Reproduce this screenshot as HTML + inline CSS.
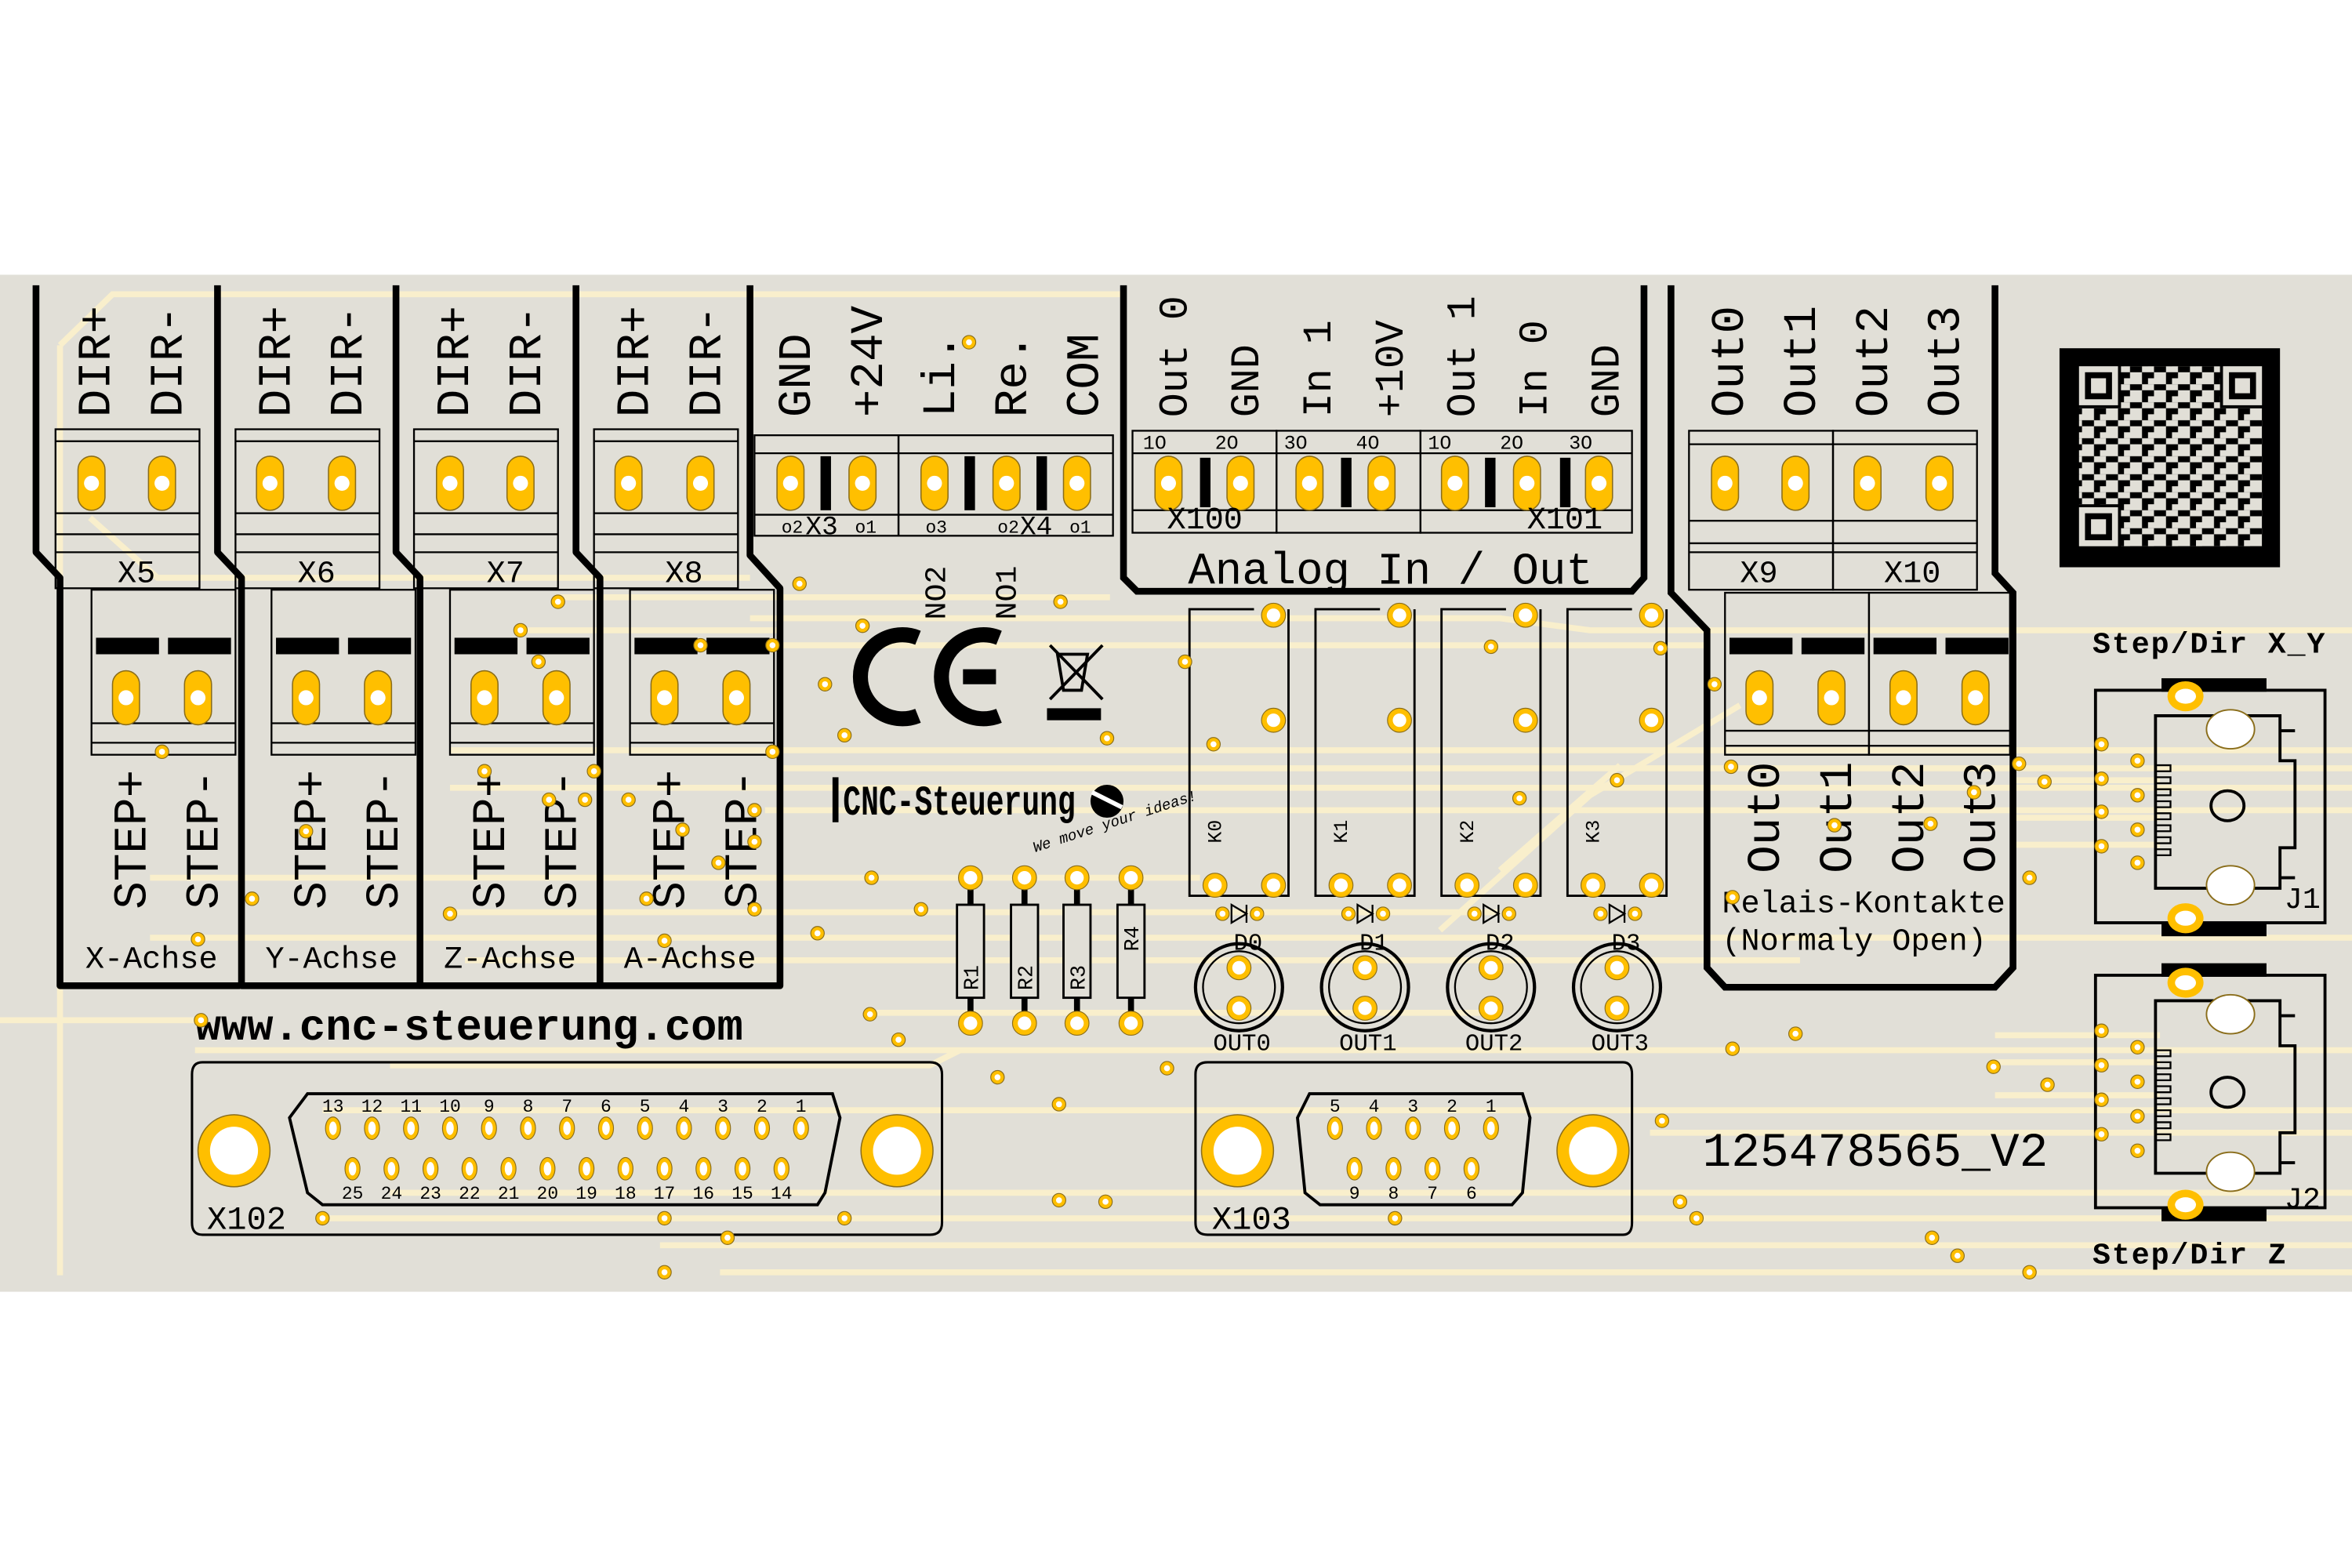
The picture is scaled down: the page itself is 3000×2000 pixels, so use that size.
<!DOCTYPE html>
<html><head><meta charset="utf-8"><style>
html,body{margin:0;padding:0;background:#fff;}
svg{display:block}
text{font-family:"Liberation Mono","DejaVu Sans Mono",monospace;fill:#000}
</style></head><body>
<svg width="3000" height="2000" viewBox="0 0 1568 1045" xmlns="http://www.w3.org/2000/svg">
<defs>
<g id="op"><rect x="-9" y="-18" width="18" height="36" rx="9" fill="#ffbf00" stroke="#8a6d1a" stroke-width="0.8"/><circle r="5" fill="#fff"/></g>
<g id="via"><circle r="4.5" fill="#ffbf00" stroke="#8a6d1a" stroke-width="0.6"/><circle r="2" fill="#fff"/></g>
<g id="rp"><circle r="8" fill="#ffbf00" stroke="#8a6d1a" stroke-width="0.6"/><circle r="4.5" fill="#fff"/></g>
<g id="sp"><ellipse rx="5" ry="7.5" fill="#ffbf00" stroke="#8a6d1a" stroke-width="0.6"/><ellipse rx="2.5" ry="4.5" fill="#fff"/></g>
<g id="big"><ellipse rx="24" ry="24" fill="#ffbf00" stroke="#8a6d1a" stroke-width="0.8"/><ellipse rx="16" ry="16" fill="#fff"/></g>
<pattern id="qr" width="16" height="12" patternUnits="userSpaceOnUse">
<rect width="16" height="12" fill="#000"/>
<rect x="0" y="0" width="4" height="4" fill="#e1dfd7"/><rect x="8" y="0" width="8" height="4" fill="#e1dfd7"/>
<rect x="4" y="4" width="8" height="4" fill="#e1dfd7"/><rect x="0" y="8" width="4" height="4" fill="#e1dfd7"/><rect x="12" y="8" width="4" height="4" fill="#e1dfd7"/>
</pattern>
</defs>
<rect width="1568" height="1045" fill="#fff"/>
<rect x="0" y="183" width="1568" height="678" fill="#e1dfd7"/>
<!-- traces -->
<g stroke="#f9efcc" stroke-width="4" fill="none">
<path d="M40 230 L75 196 L750 196"/>
<path d="M40 230 L40 850"/>
<path d="M60 345 L105 385 L500 385"/>
<path d="M500 412 L1000 412 L1060 420 L1568 420"/>
<path d="M520 430 L1140 430"/>
<path d="M370 398 L740 398"/>
<path d="M345 420 L520 420"/>
<path d="M300 500 L1568 500"/>
<path d="M520 512 L1568 512"/>
<path d="M300 525 L1568 525"/>
<path d="M510 540 L1568 540"/>
<path d="M100 585 L800 585"/>
<path d="M300 608 L1000 608"/>
<path d="M100 625 L1568 625"/>
<path d="M310 640 L1200 640"/>
<path d="M580 675 L1000 675"/>
<path d="M0 680 L130 680"/>
<path d="M130 700 L1568 700"/>
<path d="M260 710 L620 710 L640 700"/>
<path d="M215 740 L1568 740"/>
<path d="M1100 755 L1568 755"/>
<path d="M260 795 L1568 795"/>
<path d="M215 812 L1568 812"/>
<path d="M440 830 L1568 830"/>
<path d="M480 848 L1568 848"/>
<path d="M1340 500 L1440 500"/><path d="M1340 520 L1440 520"/><path d="M1340 545 L1440 545"/><path d="M1340 563 L1440 563"/>
<path d="M1330 690 L1440 690"/><path d="M1330 708 L1440 708"/><path d="M1330 730 L1440 730"/>
<path d="M960 620 L1060 530 L1160 470"/>
<path d="M1000 580 L1080 510"/>
</g>
<!-- left terminal columns -->
<g fill="none" stroke="#000" stroke-width="1.2">
<rect x="37" y="286" width="96" height="106"/><line x1="37" y1="294" x2="133" y2="294"/><line x1="37" y1="342" x2="133" y2="342"/><line x1="37" y1="356" x2="133" y2="356"/><line x1="37" y1="368" x2="133" y2="368"/>
<rect x="157" y="286" width="96" height="106"/><line x1="157" y1="294" x2="253" y2="294"/><line x1="157" y1="342" x2="253" y2="342"/><line x1="157" y1="356" x2="253" y2="356"/><line x1="157" y1="368" x2="253" y2="368"/>
<rect x="276" y="286" width="96" height="106"/><line x1="276" y1="294" x2="372" y2="294"/><line x1="276" y1="342" x2="372" y2="342"/><line x1="276" y1="356" x2="372" y2="356"/><line x1="276" y1="368" x2="372" y2="368"/>
<rect x="396" y="286" width="96" height="106"/><line x1="396" y1="294" x2="492" y2="294"/><line x1="396" y1="342" x2="492" y2="342"/><line x1="396" y1="356" x2="492" y2="356"/><line x1="396" y1="368" x2="492" y2="368"/>
<rect x="61" y="393" width="96" height="110"/><line x1="61" y1="482" x2="157" y2="482"/><line x1="61" y1="495" x2="157" y2="495"/>
<rect x="181" y="393" width="96" height="110"/><line x1="181" y1="482" x2="277" y2="482"/><line x1="181" y1="495" x2="277" y2="495"/>
<rect x="300" y="393" width="96" height="110"/><line x1="300" y1="482" x2="396" y2="482"/><line x1="300" y1="495" x2="396" y2="495"/>
<rect x="420" y="393" width="96" height="110"/><line x1="420" y1="482" x2="516" y2="482"/><line x1="420" y1="495" x2="516" y2="495"/>
</g>
<g fill="none" stroke="#000" stroke-width="4.5" stroke-linejoin="round">
<path d="M24 190 L24 368 L40 385 L40 657 L160 657"/>
<path d="M145 190 L145 368 L161 385 L161 657 L280 657"/>
<path d="M264 190 L264 368 L280 385 L280 657 L400 657"/>
<path d="M384 190 L384 368 L400 385 L400 657 L520 657 L520 392 L500 370 L500 190"/>
</g>
<g fill="#000">
<rect x="64" y="425" width="42" height="11"/><rect x="112" y="425" width="42" height="11"/>
<rect x="184" y="425" width="42" height="11"/><rect x="232" y="425" width="42" height="11"/>
<rect x="303" y="425" width="42" height="11"/><rect x="351" y="425" width="42" height="11"/>
<rect x="423" y="425" width="42" height="11"/><rect x="471" y="425" width="42" height="11"/>
</g>
<use href="#op" x="61" y="322"/><use href="#op" x="108" y="322"/><use href="#op" x="180" y="322"/><use href="#op" x="228" y="322"/>
<use href="#op" x="300" y="322"/><use href="#op" x="347" y="322"/><use href="#op" x="419" y="322"/><use href="#op" x="467" y="322"/>
<use href="#op" x="84" y="465"/><use href="#op" x="132" y="465"/><use href="#op" x="204" y="465"/><use href="#op" x="252" y="465"/>
<use href="#op" x="323" y="465"/><use href="#op" x="371" y="465"/><use href="#op" x="443" y="465"/><use href="#op" x="491" y="465"/>
<g font-size="31">
<text transform="translate(73 278) rotate(-90)">DIR+</text><text transform="translate(121 278) rotate(-90)">DIR-</text>
<text transform="translate(193 278) rotate(-90)">DIR+</text><text transform="translate(241 278) rotate(-90)">DIR-</text>
<text transform="translate(312 278) rotate(-90)">DIR+</text><text transform="translate(360 278) rotate(-90)">DIR-</text>
<text transform="translate(432 278) rotate(-90)">DIR+</text><text transform="translate(480 278) rotate(-90)">DIR-</text>
<text transform="translate(97 606) rotate(-90)">STEP+</text><text transform="translate(145 606) rotate(-90)">STEP-</text>
<text transform="translate(217 606) rotate(-90)">STEP+</text><text transform="translate(265 606) rotate(-90)">STEP-</text>
<text transform="translate(336 606) rotate(-90)">STEP+</text><text transform="translate(384 606) rotate(-90)">STEP-</text>
<text transform="translate(456 606) rotate(-90)">STEP+</text><text transform="translate(504 606) rotate(-90)">STEP-</text>
</g>
<g font-size="21" text-anchor="middle">
<text x="91" y="388">X5</text><text x="211" y="388">X6</text><text x="337" y="388">X7</text><text x="456" y="388">X8</text>
<text x="101" y="645">X-Achse</text><text x="221" y="645">Y-Achse</text><text x="340" y="645">Z-Achse</text><text x="460" y="645">A-Achse</text>
</g>
<!-- X3/X4 -->
<g fill="none" stroke="#000" stroke-width="1.2">
<rect x="503" y="290" width="96" height="67"/><rect x="599" y="290" width="143" height="67"/>
<line x1="503" y1="302" x2="742" y2="302"/><line x1="503" y1="343" x2="742" y2="343"/>
</g>
<g fill="#000"><rect x="547" y="304" width="7" height="36"/><rect x="643" y="304" width="7" height="36"/><rect x="691" y="304" width="7" height="36"/></g>
<use href="#op" x="527" y="322"/><use href="#op" x="575" y="322"/><use href="#op" x="623" y="322"/><use href="#op" x="671" y="322"/><use href="#op" x="718" y="322"/>
<g font-size="12"><text x="521" y="355">o2</text><text x="537" y="356" font-size="18">X3</text><text x="570" y="355">o1</text><text x="617" y="355">o3</text><text x="665" y="355">o2</text><text x="680" y="356" font-size="18">X4</text><text x="713" y="355">o1</text></g>
<g font-size="31">
<text transform="translate(540 278) rotate(-90)">GND</text><text transform="translate(588 278) rotate(-90)">+24V</text>
<text transform="translate(636 278) rotate(-90)">Li.</text><text transform="translate(684 278) rotate(-90)">Re.</text><text transform="translate(732 278) rotate(-90)">COM</text>
</g>
<g font-size="20"><text transform="translate(630 413) rotate(-90)">NO2</text><text transform="translate(677 413) rotate(-90)">NO1</text></g>
<!-- Analog -->
<path d="M749 190 L749 385 L758 394 L1088 394 L1096 385 L1096 190" fill="none" stroke="#000" stroke-width="4.5"/>
<g fill="none" stroke="#000" stroke-width="1.2">
<rect x="755" y="287" width="96" height="68"/><rect x="851" y="287" width="96" height="68"/><rect x="947" y="287" width="141" height="68"/>
<line x1="755" y1="302" x2="1088" y2="302"/><line x1="755" y1="340" x2="1088" y2="340"/>
</g>
<g fill="#000"><rect x="800" y="305" width="7" height="33"/><rect x="894" y="305" width="7" height="33"/><rect x="990" y="305" width="7" height="33"/><rect x="1040" y="305" width="7" height="33"/></g>
<use href="#op" x="779" y="322"/><use href="#op" x="827" y="322"/><use href="#op" x="873" y="322"/><use href="#op" x="921" y="322"/><use href="#op" x="970" y="322"/><use href="#op" x="1018" y="322"/><use href="#op" x="1066" y="322"/>
<g font-size="13"><text x="762" y="299">1O</text><text x="810" y="299">2O</text><text x="856" y="299">3O</text><text x="904" y="299">4O</text><text x="952" y="299">1O</text><text x="1000" y="299">2O</text><text x="1046" y="299">3O</text></g>
<g font-size="21"><text x="778" y="352">X100</text><text x="1018" y="352">X101</text></g>
<text x="927" y="389" font-size="30" text-anchor="middle">Analog In / Out</text>
<g font-size="27">
<text transform="translate(791 278) rotate(-90)">Out 0</text><text transform="translate(839 278) rotate(-90)">GND</text>
<text transform="translate(887 278) rotate(-90)">In 1</text><text transform="translate(935 278) rotate(-90)">+10V</text>
<text transform="translate(983 278) rotate(-90)">Out 1</text><text transform="translate(1031 278) rotate(-90)">In 0</text>
<text transform="translate(1079 278) rotate(-90)">GND</text>
</g>
<!-- X9/X10 -->
<path d="M1114 190 L1114 395 L1138 420 L1138 645 L1150 658 L1330 658 L1342 645 L1342 395 L1330 382 L1330 190" fill="none" stroke="#000" stroke-width="4.5"/>
<g fill="none" stroke="#000" stroke-width="1.2">
<rect x="1126" y="287" width="96" height="106"/><rect x="1222" y="287" width="96" height="106"/>
<line x1="1126" y1="296" x2="1318" y2="296"/><line x1="1126" y1="347" x2="1318" y2="347"/><line x1="1126" y1="362" x2="1318" y2="362"/><line x1="1126" y1="368" x2="1318" y2="368"/>
<rect x="1150" y="395" width="96" height="108"/><rect x="1246" y="395" width="94" height="108"/>
<line x1="1150" y1="487" x2="1340" y2="487"/><line x1="1150" y1="497" x2="1340" y2="497"/>
</g>
<g fill="#000"><rect x="1153" y="425" width="42" height="11"/><rect x="1201" y="425" width="42" height="11"/><rect x="1249" y="425" width="42" height="11"/><rect x="1297" y="425" width="42" height="11"/></g>
<use href="#op" x="1150" y="322"/><use href="#op" x="1197" y="322"/><use href="#op" x="1245" y="322"/><use href="#op" x="1293" y="322"/>
<use href="#op" x="1173" y="465"/><use href="#op" x="1221" y="465"/><use href="#op" x="1269" y="465"/><use href="#op" x="1317" y="465"/>
<g font-size="31">
<text transform="translate(1162 278) rotate(-90)">Out0</text><text transform="translate(1210 278) rotate(-90)">Out1</text>
<text transform="translate(1258 278) rotate(-90)">Out2</text><text transform="translate(1306 278) rotate(-90)">Out3</text>
<text transform="translate(1186 582) rotate(-90)">Out0</text><text transform="translate(1234 582) rotate(-90)">Out1</text>
<text transform="translate(1282 582) rotate(-90)">Out2</text><text transform="translate(1330 582) rotate(-90)">Out3</text>
</g>
<g font-size="21"><text x="1160" y="388">X9</text><text x="1256" y="388">X10</text>
<text x="1148" y="608">Relais-Kontakte</text><text x="1148" y="633">(Normaly Open)</text></g>
<!-- relays -->
<g fill="none" stroke="#000" stroke-width="1.5">
<path d="M836 406 L793 406 L793 597 L859 597 L859 406"/>
<path d="M920 406 L877 406 L877 597 L943 597 L943 406"/>
<path d="M1004 406 L961 406 L961 597 L1027 597 L1027 406"/>
<path d="M1088 406 L1045 406 L1045 597 L1111 597 L1111 406"/>
</g>
<g font-size="13"><text transform="translate(814 562) rotate(-90)">K0</text><text transform="translate(898 562) rotate(-90)">K1</text><text transform="translate(982 562) rotate(-90)">K2</text><text transform="translate(1066 562) rotate(-90)">K3</text></g>
<use href="#rp" x="849" y="410"/><use href="#rp" x="849" y="480"/><use href="#rp" x="810" y="590"/><use href="#rp" x="849" y="590"/>
<use href="#rp" x="933" y="410"/><use href="#rp" x="933" y="480"/><use href="#rp" x="894" y="590"/><use href="#rp" x="933" y="590"/>
<use href="#rp" x="1017" y="410"/><use href="#rp" x="1017" y="480"/><use href="#rp" x="978" y="590"/><use href="#rp" x="1017" y="590"/>
<use href="#rp" x="1101" y="410"/><use href="#rp" x="1101" y="480"/><use href="#rp" x="1062" y="590"/><use href="#rp" x="1101" y="590"/>
<!-- diodes & leds -->
<g>
<use href="#via" x="815" y="609"/><use href="#via" x="838" y="609"/><path d="M821 603 L821 615 L831 609 Z M831 603 L831 615" fill="none" stroke="#000" stroke-width="1.2"/>
<use href="#via" x="899" y="609"/><use href="#via" x="922" y="609"/><path d="M905 603 L905 615 L915 609 Z M915 603 L915 615" fill="none" stroke="#000" stroke-width="1.2"/>
<use href="#via" x="983" y="609"/><use href="#via" x="1006" y="609"/><path d="M989 603 L989 615 L999 609 Z M999 603 L999 615" fill="none" stroke="#000" stroke-width="1.2"/>
<use href="#via" x="1067" y="609"/><use href="#via" x="1090" y="609"/><path d="M1073 603 L1073 615 L1083 609 Z M1083 603 L1083 615" fill="none" stroke="#000" stroke-width="1.2"/>
</g>
<g fill="none" stroke="#000" stroke-width="2.2">
<circle cx="826" cy="658" r="29"/><circle cx="826" cy="658" r="24" stroke-width="1.2"/>
<circle cx="910" cy="658" r="29"/><circle cx="910" cy="658" r="24" stroke-width="1.2"/>
<circle cx="994" cy="658" r="29"/><circle cx="994" cy="658" r="24" stroke-width="1.2"/>
<circle cx="1078" cy="658" r="29"/><circle cx="1078" cy="658" r="24" stroke-width="1.2"/>
</g>
<use href="#rp" x="826" y="645"/><use href="#rp" x="826" y="672"/><use href="#rp" x="910" y="645"/><use href="#rp" x="910" y="672"/>
<use href="#rp" x="994" y="645"/><use href="#rp" x="994" y="672"/><use href="#rp" x="1078" y="645"/><use href="#rp" x="1078" y="672"/>
<g font-size="16" text-anchor="middle"><text x="832" y="633">D0</text><text x="916" y="633">D1</text><text x="1000" y="633">D2</text><text x="1084" y="633">D3</text>
<text x="828" y="700">OUT0</text><text x="912" y="700">OUT1</text><text x="996" y="700">OUT2</text><text x="1080" y="700">OUT3</text></g>
<!-- resistors -->
<g stroke="#000" fill="none" stroke-width="1.5">
<line x1="647" y1="590" x2="647" y2="680" stroke-width="4"/><rect x="638" y="603" width="18" height="62" fill="#e1dfd7"/>
<line x1="683" y1="590" x2="683" y2="680" stroke-width="4"/><rect x="674" y="603" width="18" height="62" fill="#e1dfd7"/>
<line x1="718" y1="590" x2="718" y2="680" stroke-width="4"/><rect x="709" y="603" width="18" height="62" fill="#e1dfd7"/>
<line x1="754" y1="590" x2="754" y2="680" stroke-width="4"/><rect x="745" y="603" width="18" height="62" fill="#e1dfd7"/>
</g>
<use href="#rp" x="647" y="585"/><use href="#rp" x="647" y="682"/><use href="#rp" x="683" y="585"/><use href="#rp" x="683" y="682"/>
<use href="#rp" x="718" y="585"/><use href="#rp" x="718" y="682"/><use href="#rp" x="754" y="585"/><use href="#rp" x="754" y="682"/>
<g font-size="14"><text transform="translate(652 660) rotate(-90)">R1</text><text transform="translate(688 660) rotate(-90)">R2</text><text transform="translate(723 660) rotate(-90)">R3</text><text transform="translate(759 634) rotate(-90)">R4</text></g>
<!-- CE -->
<g fill="none" stroke="#000" stroke-width="10">
<path d="M612 425 A28 28 0 1 0 612 477"/>
<path d="M666 425 A28 28 0 1 0 666 477 M642 451 L664 451"/>
</g>
<g stroke="#000" fill="none" stroke-width="2">
<path d="M705 436 L725 436 L721 460 L709 460 Z"/><path d="M700 430 L735 466 M735 430 L700 466"/>
<rect x="699" y="473" width="34" height="6" fill="#000"/>
</g>
<!-- logo -->
<rect x="555" y="518" width="4" height="30" fill="#000"/>
<text x="562" y="543" font-family="Liberation Sans,sans-serif" font-size="28" font-weight="bold" textLength="155" lengthAdjust="spacingAndGlyphs">CNC-Steuerung</text>
<circle cx="738" cy="534" r="11" fill="#000"/><path d="M728 528 L748 538" stroke="#fff" stroke-width="3"/>
<text x="690" y="568" font-family="Liberation Sans,sans-serif" font-size="10" font-style="italic" transform="rotate(-18 690 568)">We move your ideas!</text>
<!-- website -->
<text x="130" y="693" font-size="29" font-weight="bold">www.cnc-steuerung.com</text>
<text x="1135" y="777" font-size="32">125478565_V2</text>
<!-- DB25 -->
<g fill="none" stroke="#000" stroke-width="1.6">
<path d="M135 708 L620 708 Q628 708 628 716 L628 815 Q628 823 620 823 L135 823 Q128 823 128 815 L128 716 Q128 708 135 708 Z"/>
<path d="M205 729 L555 729 L560 745 L550 795 L545 803 L215 803 L205 795 L193 745 Z" stroke-width="2"/>
<path d="M797 716 Q797 708 805 708 L1082 708 Q1088 708 1088 716 L1088 815 Q1088 823 1082 823 L805 823 Q797 823 797 815 Z"/>
<path d="M873 729 L1015 729 L1020 745 L1015 795 L1008 803 L880 803 L870 795 L865 745 Z" stroke-width="2"/>
</g>
<use href="#big" x="156" y="767"/><use href="#big" x="598" y="767"/><use href="#big" x="825" y="767"/><use href="#big" x="1062" y="767"/>
<g>
<use href="#sp" x="222" y="752"/><use href="#sp" x="248" y="752"/><use href="#sp" x="274" y="752"/><use href="#sp" x="300" y="752"/><use href="#sp" x="326" y="752"/><use href="#sp" x="352" y="752"/><use href="#sp" x="378" y="752"/><use href="#sp" x="404" y="752"/><use href="#sp" x="430" y="752"/><use href="#sp" x="456" y="752"/><use href="#sp" x="482" y="752"/><use href="#sp" x="508" y="752"/><use href="#sp" x="534" y="752"/>
<use href="#sp" x="235" y="779"/><use href="#sp" x="261" y="779"/><use href="#sp" x="287" y="779"/><use href="#sp" x="313" y="779"/><use href="#sp" x="339" y="779"/><use href="#sp" x="365" y="779"/><use href="#sp" x="391" y="779"/><use href="#sp" x="417" y="779"/><use href="#sp" x="443" y="779"/><use href="#sp" x="469" y="779"/><use href="#sp" x="495" y="779"/><use href="#sp" x="521" y="779"/>
<use href="#sp" x="890" y="752"/><use href="#sp" x="916" y="752"/><use href="#sp" x="942" y="752"/><use href="#sp" x="968" y="752"/><use href="#sp" x="994" y="752"/>
<use href="#sp" x="903" y="779"/><use href="#sp" x="929" y="779"/><use href="#sp" x="955" y="779"/><use href="#sp" x="981" y="779"/>
</g>
<g font-size="12" text-anchor="middle">
<text x="222" y="741">13</text><text x="248" y="741">12</text><text x="274" y="741">11</text><text x="300" y="741">10</text><text x="326" y="741">9</text><text x="352" y="741">8</text><text x="378" y="741">7</text><text x="404" y="741">6</text><text x="430" y="741">5</text><text x="456" y="741">4</text><text x="482" y="741">3</text><text x="508" y="741">2</text><text x="534" y="741">1</text>
<text x="235" y="799">25</text><text x="261" y="799">24</text><text x="287" y="799">23</text><text x="313" y="799">22</text><text x="339" y="799">21</text><text x="365" y="799">20</text><text x="391" y="799">19</text><text x="417" y="799">18</text><text x="443" y="799">17</text><text x="469" y="799">16</text><text x="495" y="799">15</text><text x="521" y="799">14</text>
<text x="890" y="741">5</text><text x="916" y="741">4</text><text x="942" y="741">3</text><text x="968" y="741">2</text><text x="994" y="741">1</text>
<text x="903" y="799">9</text><text x="929" y="799">8</text><text x="955" y="799">7</text><text x="981" y="799">6</text>
</g>
<g font-size="22"><text x="138" y="819">X102</text><text x="808" y="819">X103</text></g>
<!-- QR -->
<rect x="1373" y="232" width="147" height="146" fill="#000"/>
<rect x="1386" y="244" width="122" height="120" fill="url(#qr)"/>
<g fill="#000"><rect x="1384" y="242" width="30" height="30"/><rect x="1480" y="242" width="30" height="30"/><rect x="1384" y="336" width="30" height="30"/></g>
<g fill="#e1dfd7"><rect x="1386" y="244" width="26" height="26"/><rect x="1482" y="244" width="26" height="26"/><rect x="1386" y="338" width="26" height="26"/></g>
<g fill="#000"><rect x="1390" y="248" width="18" height="18"/><rect x="1486" y="248" width="18" height="18"/><rect x="1390" y="342" width="18" height="18"/></g>
<g fill="#e1dfd7"><rect x="1394" y="252" width="10" height="10"/><rect x="1490" y="252" width="10" height="10"/><rect x="1394" y="346" width="10" height="10"/></g>
<!-- RJ45 -->
<g font-family="Liberation Sans,sans-serif" font-weight="bold" font-size="20"><text x="1395" y="435" letter-spacing="1">Step/Dir X_Y</text><text x="1395" y="842" letter-spacing="1">Step/Dir Z</text></g>
<g fill="none" stroke="#000" stroke-width="2">
<rect x="1397" y="460" width="153" height="155"/><rect x="1397" y="650" width="153" height="155"/>
<path d="M1437 477 L1520 477 L1520 507 L1530 507 L1530 565 L1520 565 L1520 592 L1437 592 Z"/>
<path d="M1437 667 L1520 667 L1520 697 L1530 697 L1530 755 L1520 755 L1520 782 L1437 782 Z"/>
<path d="M1520 487 L1530 487 M1520 585 L1530 585 M1520 677 L1530 677 M1520 775 L1530 775"/>
<ellipse cx="1485" cy="537" rx="11" ry="10"/><ellipse cx="1485" cy="728" rx="11" ry="10"/>
<path d="M1437 510 L1447 510 L1447 514 L1437 514 L1437 518 L1447 518 L1447 522 L1437 522 L1437 526 L1447 526 L1447 530 L1437 530 L1437 534 L1447 534 L1447 538 L1437 538 L1437 542 L1447 542 L1447 546 L1437 546 L1437 550 L1447 550 L1447 554 L1437 554 L1437 558 L1447 558 L1447 562 L1437 562 L1437 566 L1447 566 L1447 570 L1437 570" stroke-width="1.2"/>
<path d="M1437 700 L1447 700 L1447 704 L1437 704 L1437 708 L1447 708 L1447 712 L1437 712 L1437 716 L1447 716 L1447 720 L1437 720 L1437 724 L1447 724 L1447 728 L1437 728 L1437 732 L1447 732 L1447 736 L1437 736 L1437 740 L1447 740 L1447 744 L1437 744 L1437 748 L1447 748 L1447 752 L1437 752 L1437 756 L1447 756 L1447 760 L1437 760" stroke-width="1.2"/>
</g>
<g fill="#000"><rect x="1441" y="452" width="70" height="9"/><rect x="1441" y="615" width="70" height="9"/><rect x="1441" y="642" width="70" height="9"/><rect x="1441" y="805" width="70" height="9"/></g>
<g fill="#fff" stroke="#8a6d1a"><ellipse cx="1487" cy="486" rx="16" ry="13"/><ellipse cx="1487" cy="590" rx="16" ry="13"/><ellipse cx="1487" cy="676" rx="16" ry="13"/><ellipse cx="1487" cy="781" rx="16" ry="13"/></g>
<g><ellipse cx="1457" cy="464" rx="12" ry="10" fill="#ffbf00"/><ellipse cx="1457" cy="464" rx="7" ry="5" fill="#fff"/>
<ellipse cx="1457" cy="612" rx="12" ry="10" fill="#ffbf00"/><ellipse cx="1457" cy="612" rx="7" ry="5" fill="#fff"/>
<ellipse cx="1457" cy="655" rx="12" ry="10" fill="#ffbf00"/><ellipse cx="1457" cy="655" rx="7" ry="5" fill="#fff"/>
<ellipse cx="1457" cy="803" rx="12" ry="10" fill="#ffbf00"/><ellipse cx="1457" cy="803" rx="7" ry="5" fill="#fff"/></g>
<g>
<use href="#via" x="1401" y="496"/><use href="#via" x="1401" y="519"/><use href="#via" x="1401" y="541"/><use href="#via" x="1401" y="564"/>
<use href="#via" x="1425" y="507"/><use href="#via" x="1425" y="530"/><use href="#via" x="1425" y="553"/><use href="#via" x="1425" y="575"/>
<use href="#via" x="1401" y="687"/><use href="#via" x="1401" y="710"/><use href="#via" x="1401" y="733"/><use href="#via" x="1401" y="756"/>
<use href="#via" x="1425" y="698"/><use href="#via" x="1425" y="721"/><use href="#via" x="1425" y="744"/><use href="#via" x="1425" y="767"/>
</g>
<g font-size="20"><text x="1523" y="605">J1</text><text x="1523" y="805">J2</text></g>
<!-- scattered vias -->
<g>
<use href="#via" x="646" y="228"/><use href="#via" x="533" y="389"/><use href="#via" x="707" y="401"/><use href="#via" x="575" y="417"/><use href="#via" x="550" y="456"/><use href="#via" x="738" y="492"/><use href="#via" x="563" y="490"/>
<use href="#via" x="372" y="401"/><use href="#via" x="347" y="420"/><use href="#via" x="359" y="441"/><use href="#via" x="108" y="501"/><use href="#via" x="515" y="430"/><use href="#via" x="515" y="501"/><use href="#via" x="467" y="430"/>
<use href="#via" x="323" y="514"/><use href="#via" x="396" y="514"/><use href="#via" x="366" y="533"/><use href="#via" x="390" y="533"/><use href="#via" x="204" y="554"/><use href="#via" x="168" y="599"/><use href="#via" x="132" y="626"/>
<use href="#via" x="419" y="533"/><use href="#via" x="455" y="553"/><use href="#via" x="503" y="540"/><use href="#via" x="503" y="561"/><use href="#via" x="479" y="575"/><use href="#via" x="431" y="599"/><use href="#via" x="503" y="606"/>
<use href="#via" x="300" y="609"/><use href="#via" x="443" y="627"/><use href="#via" x="545" y="622"/><use href="#via" x="581" y="585"/><use href="#via" x="614" y="606"/>
<use href="#via" x="790" y="441"/><use href="#via" x="809" y="496"/><use href="#via" x="994" y="431"/><use href="#via" x="1013" y="532"/><use href="#via" x="1107" y="432"/><use href="#via" x="1078" y="520"/><use href="#via" x="1143" y="456"/>
<use href="#via" x="1154" y="511"/><use href="#via" x="1223" y="550"/><use href="#via" x="1287" y="549"/><use href="#via" x="1316" y="528"/><use href="#via" x="1346" y="509"/><use href="#via" x="1363" y="521"/><use href="#via" x="1353" y="585"/>
<use href="#via" x="1155" y="598"/><use href="#via" x="1197" y="689"/><use href="#via" x="1155" y="699"/><use href="#via" x="1329" y="711"/><use href="#via" x="1365" y="723"/><use href="#via" x="1108" y="747"/>
<use href="#via" x="580" y="676"/><use href="#via" x="599" y="693"/><use href="#via" x="665" y="718"/><use href="#via" x="706" y="736"/><use href="#via" x="778" y="712"/><use href="#via" x="134" y="680"/>
<use href="#via" x="215" y="812"/><use href="#via" x="443" y="812"/><use href="#via" x="563" y="812"/><use href="#via" x="485" y="825"/><use href="#via" x="443" y="848"/>
<use href="#via" x="706" y="800"/><use href="#via" x="737" y="801"/><use href="#via" x="930" y="812"/><use href="#via" x="1120" y="801"/><use href="#via" x="1131" y="812"/><use href="#via" x="1288" y="825"/><use href="#via" x="1305" y="837"/><use href="#via" x="1353" y="848"/>
</g>
</svg>
</body></html>
